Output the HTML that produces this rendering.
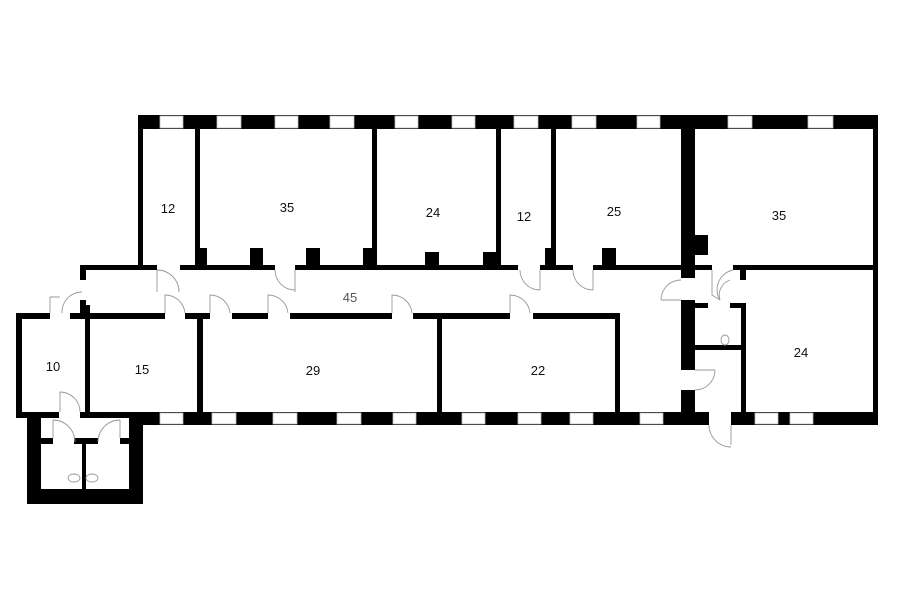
<!DOCTYPE html>
<html><head><meta charset="utf-8"><style>
html,body{margin:0;padding:0;background:#fff;}
svg{display:block;}
text{font-family:"Liberation Sans",sans-serif;font-size:13px;fill:#111;text-anchor:middle;}
</style></head><body>
<svg width="900" height="604" viewBox="0 0 900 604" xmlns="http://www.w3.org/2000/svg">
<rect width="900" height="604" fill="#fff"/>
<g fill="#000">
<!-- top exterior wall -->
<rect x="138" y="115" width="740" height="14"/>
<!-- right exterior wall -->
<rect x="873" y="115" width="5" height="310"/>
<!-- bottom exterior wall -->
<rect x="143" y="412" width="735" height="13"/>
<!-- left wing wall -->
<rect x="138" y="115" width="5" height="155"/>
<!-- vertical partitions top -->
<rect x="195" y="129" width="5" height="136"/>
<rect x="195" y="248" width="12" height="17"/>
<rect x="372" y="129" width="5" height="136"/>
<rect x="363" y="248" width="14" height="17"/>
<rect x="250" y="248" width="13" height="17"/>
<rect x="306" y="248" width="14" height="17"/>
<rect x="425" y="252" width="14" height="13"/>
<rect x="483" y="252" width="14" height="13"/>
<rect x="496" y="129" width="5" height="136"/>
<rect x="551" y="129" width="5" height="136"/>
<rect x="545" y="248" width="11" height="17"/>
<rect x="602" y="248" width="14" height="17"/>
<!-- corridor top wall -->
<rect x="80" y="265" width="77" height="5"/>
<rect x="180" y="265" width="95" height="5"/>
<rect x="295" y="265" width="223" height="5"/>
<rect x="540" y="265" width="33" height="5"/>
<rect x="593" y="265" width="90" height="5"/>
<rect x="80" y="265" width="6" height="15"/>
<!-- thick wall right -->
<rect x="681" y="129" width="14" height="149"/>
<rect x="695" y="235" width="13" height="20"/>
<rect x="695" y="265" width="17" height="5"/>
<rect x="733" y="265" width="145" height="5"/>
<rect x="740" y="270" width="6" height="10"/>
<rect x="681" y="300" width="14" height="70"/>
<rect x="681" y="390" width="14" height="22"/>
<rect x="695" y="303" width="13" height="5"/>
<rect x="730" y="303" width="16" height="5"/>
<rect x="695" y="345" width="47" height="5"/>
<rect x="741" y="303" width="5" height="109"/>
<!-- corridor bottom wall -->
<rect x="16" y="313" width="34" height="6"/>
<rect x="70" y="313" width="15" height="6"/>
<rect x="80" y="300" width="6" height="19"/>
<rect x="85" y="313" width="80" height="6"/>
<rect x="185" y="313" width="25" height="6"/>
<rect x="232" y="313" width="36" height="6"/>
<rect x="290" y="313" width="102" height="6"/>
<rect x="413" y="313" width="97" height="6"/>
<rect x="533" y="313" width="87" height="6"/>
<rect x="615" y="313" width="5" height="99"/>
<rect x="437" y="318" width="5" height="94"/>
<rect x="197" y="318" width="6" height="94"/>
<rect x="85" y="305" width="5" height="107"/>
<!-- room 10 -->
<rect x="16" y="313" width="6" height="105"/>
<rect x="16" y="412" width="43" height="6"/>
<rect x="80" y="412" width="63" height="6"/>
<!-- annex -->
<rect x="27" y="412" width="14" height="92"/>
<rect x="129" y="412" width="14" height="92"/>
<rect x="27" y="489" width="116" height="15"/>
<rect x="41" y="438" width="12" height="6"/>
<rect x="74" y="438" width="24" height="6"/>
<rect x="120" y="438" width="9" height="6"/>
<rect x="82" y="444" width="4" height="45"/>
</g>
<!-- windows top -->
<g fill="#fff" stroke="#bbb" stroke-width="0.8">
<rect x="160" y="116" width="23" height="12"/>
<rect x="217" y="116" width="24" height="12"/>
<rect x="275" y="116" width="23" height="12"/>
<rect x="330" y="116" width="24" height="12"/>
<rect x="395" y="116" width="23" height="12"/>
<rect x="452" y="116" width="23" height="12"/>
<rect x="514" y="116" width="24" height="12"/>
<rect x="572" y="116" width="24" height="12"/>
<rect x="637" y="116" width="23" height="12"/>
<rect x="728" y="116" width="24" height="12"/>
<rect x="808" y="116" width="25" height="12"/>
<!-- bottom windows -->
<rect x="160" y="413" width="23" height="11"/>
<rect x="212" y="413" width="24" height="11"/>
<rect x="273" y="413" width="24" height="11"/>
<rect x="337" y="413" width="24" height="11"/>
<rect x="393" y="413" width="23" height="11"/>
<rect x="462" y="413" width="23" height="11"/>
<rect x="518" y="413" width="23" height="11"/>
<rect x="570" y="413" width="23" height="11"/>
<rect x="640" y="413" width="23" height="11"/>
<rect x="755" y="413" width="23" height="11"/>
<rect x="790" y="413" width="23" height="11"/>
</g>
<!-- door gaps bottom exterior -->
<rect x="709" y="412" width="22" height="13" fill="#fff"/>
<!-- doors arcs -->
<g fill="none" stroke="#999" stroke-width="0.9">
<path d="M157 270 L157 292 M157 270 A22 22 0 0 1 179 292"/>
<path d="M295 270 L295 292 M275 270 A20 20 0 0 0 295 290"/>
<path d="M540 270 L540 290 M520 270 A20 20 0 0 0 540 290"/>
<path d="M593 270 L593 290 M573 270 A20 20 0 0 0 593 290"/>
<path d="M165 313 L165 295 A20 20 0 0 1 185 313"/>
<path d="M210 313 L210 295 A20 20 0 0 1 230 313"/>
<path d="M268 313 L268 295 A20 20 0 0 1 288 313"/>
<path d="M392 313 L392 295 A20 20 0 0 1 412 313"/>
<path d="M510 313 L510 295 A20 20 0 0 1 530 313"/>
<path d="M50 313 L50 297 M50 297 L60 297 M62 313 A20 20 0 0 1 82 292"/>
<path d="M60 412 L60 392 A20 20 0 0 1 80 412"/>
<path d="M53 420 L53 438 M53 420 A22 22 0 0 1 75 442"/>
<path d="M120 420 L120 438 M120 420 A22 22 0 0 0 98 442"/>
<path d="M661 300 L681 300 M661 300 A20 20 0 0 1 681 280"/>
<path d="M712 270 L712 295 L720 300 M733 270 A20 20 0 0 0 720 300"/>
<path d="M730 280 A16 16 0 0 0 720 300"/>
<path d="M695 370 L715 370 M715 370 A20 20 0 0 1 695 390"/>
<path d="M731 425 L731 445 M709 425 A22 22 0 0 0 731 447"/>
<ellipse cx="74" cy="478" rx="6" ry="4"/>
<ellipse cx="92" cy="478" rx="6" ry="4"/>
<ellipse cx="725" cy="340" rx="4" ry="5"/>
</g>
<text x="168" y="213">12</text>
<text x="287" y="212">35</text>
<text x="433" y="217">24</text>
<text x="524" y="221">12</text>
<text x="614" y="216">25</text>
<text x="779" y="220">35</text>
<text x="350" y="302" style="fill:#555">45</text>
<text x="53" y="371">10</text>
<text x="142" y="374">15</text>
<text x="313" y="375">29</text>
<text x="538" y="375">22</text>
<text x="801" y="357">24</text>
</svg>
</body></html>
